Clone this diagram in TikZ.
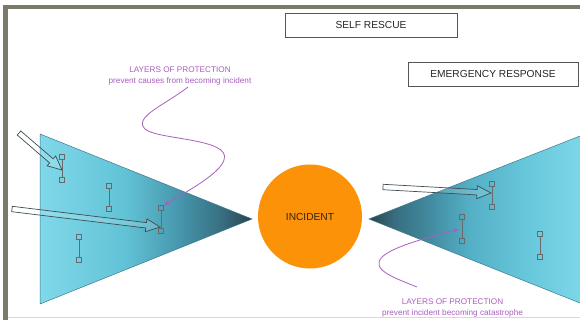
\documentclass[tikz,border=0pt]{standalone}
\usepackage{fontspec}
\setmainfont{Liberation Sans}
\usetikzlibrary{calc,arrows.meta}
\definecolor{framec}{RGB}{123,121,106}
\definecolor{cA}{RGB}{128,216,234}
\definecolor{cB}{RGB}{98,195,214}
\definecolor{cC}{RGB}{70,150,172}
\definecolor{cD}{RGB}{55,110,128}
\definecolor{cE}{RGB}{42,66,76}
\definecolor{rB}{RGB}{62,130,150}
\definecolor{rC}{RGB}{84,176,198}
\definecolor{rD}{RGB}{104,200,220}
\definecolor{rE}{RGB}{124,214,232}
\definecolor{edgec}{RGB}{60,120,140}
\definecolor{orangeC}{RGB}{252,146,8}
\definecolor{purp}{RGB}{170,95,192}
\definecolor{markc}{RGB}{105,105,105}
\definecolor{arrowedge}{RGB}{62,78,84}
\definecolor{boxedge}{RGB}{85,85,85}
\definecolor{inctext}{RGB}{50,36,16}
\pgfdeclarehorizontalshading{leftcone}{100bp}{color(0bp)=(cA); color(25bp)=(cA); color(45bp)=(cB); color(58bp)=(cC); color(68bp)=(cD); color(75bp)=(cE); color(100bp)=(cE)}
\pgfdeclarehorizontalshading{rightcone}{100bp}{color(0bp)=(cE); color(25bp)=(cE); color(31bp)=(cD); color(37bp)=(rB); color(49bp)=(rC); color(63bp)=(rD); color(75bp)=(rE); color(100bp)=(rE)}
\tikzset{
  hsq/.style={draw=markc, line width=0.6pt, minimum size=5pt, inner sep=0pt},
  hline/.style={draw=markc, line width=0.7pt},
  barrow/.style={draw=arrowedge, line width=0.7pt, fill=white, fill opacity=0.15, line join=miter},
  labbox/.style={draw=boxedge, line width=0.8pt, fill=white, inner sep=0pt, minimum height=24pt, text=black!85, font=\fontsize{10.2}{12}\selectfont},
  ptext/.style={text=purp, align=center, inner sep=0pt, font=\fontsize{8.2}{11}\selectfont},
  pcurve/.style={draw=purp, line width=0.8pt, -{Latex[length=5pt,width=4.5pt]}}
}
\newcommand\blockarr[2]{%
  \coordinate (#1-h) at ($(#2)!14pt!(#1)$);
  \draw[barrow] ($(#1)!2.7pt!90:(#2)$) -- ($(#1-h)!2.7pt!90:(#2)$) -- ($(#1-h)!6.5pt!90:(#2)$) -- (#2) -- ($(#1-h)!6.5pt!-90:(#2)$) -- ($(#1-h)!2.7pt!-90:(#2)$) -- ($(#1)!2.7pt!-90:(#2)$) -- cycle;}
\begin{document}
\begin{tikzpicture}[x=1pt,y=-1pt]
\useasboundingbox (0,0) rectangle (580,320);
\fill[white] (0,0) rectangle (580,320);
% frame
\fill[framec] (3,5) rectangle (580,9);
\fill[framec] (3,5) rectangle (8,320);
\draw[black!15, line width=1pt] (8,317) -- (580,317);
% cones
\shadedraw[shading=leftcone, draw=edgec, line width=0.5pt] (40,134) -- (40,304) -- (252,219) -- cycle;
\shade[shading=rightcone] (369,219) -- (580,136) -- (580,303) -- cycle;
\draw[edgec, line width=0.5pt] (580,136) -- (369,219) -- (580,303);
% markers left
\node[hsq] (m1a) at (62,157) {};
\node[hsq] (m1b) at (62,180) {};
\node[hsq] (m2a) at (109,186) {};
\node[hsq] (m2b) at (109,209) {};
\node[hsq] (m3a) at (161,208) {};
\node[hsq] (m3b) at (161,231) {};
\node[hsq] (m4a) at (79,237) {};
\node[hsq] (m4b) at (79,260) {};
% markers right
\node[hsq] (mAa) at (492,184) {};
\node[hsq] (mAb) at (492,207) {};
\node[hsq] (mBa) at (462,217) {};
\node[hsq] (mBb) at (462,241) {};
\node[hsq] (mCa) at (540,234) {};
\node[hsq] (mCb) at (540,257) {};
\foreach \p in {1,2,3,4,A,B,C}{\draw[hline] (m\p a) -- (m\p b);}
% block arrows
\coordinate (a1t) at (19,133);
\coordinate (a1p) at (62,170);
\coordinate (a2t) at (12,209);
\coordinate (a2p) at (160,227);
\coordinate (a3t) at (383,187);
\coordinate (a3p) at (491,193);
\blockarr{a1t}{a1p}
\blockarr{a2t}{a2p}
\blockarr{a3t}{a3p}
% incident
\node[circle, fill=orangeC, minimum size=104pt, inner sep=0pt, text=inctext, font=\fontsize{10.2}{12}\selectfont] (inc) at (310,216.5) {INCIDENT};
% boxes
\node[labbox, minimum width=172pt] (self) at (371,25) {SELF RESCUE};
\node[labbox, minimum width=170pt] (emer) at (493,74) {EMERGENCY RESPONSE};
% purple annotations
\node[ptext] (tTop) at (180,76) {LAYERS OF PROTECTION\\prevent causes from becoming incident};
\node[ptext] (tBot) at (452.5,308) {LAYERS OF PROTECTION\\prevent incident becoming catastrophe};
\coordinate (c1s) at (188,87);
\coordinate (c2s) at (417,287);
\coordinate (pB) at (459,229);
\draw[pcurve] (c1s) .. controls (165,105) and (133,117) .. (145,129) .. controls (157,140) and (232,138) .. (224,160) .. controls (220,173) and (190,190) .. (m3a.north east);
\draw[pcurve] (c2s) .. controls (395,278) and (370,270) .. (382,257) .. controls (395,245) and (435,236) .. (pB);
\end{tikzpicture}
\end{document}
